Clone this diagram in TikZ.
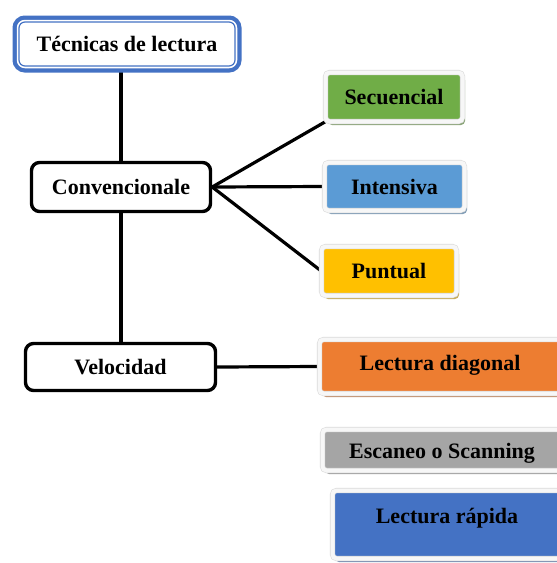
\documentclass[tikz,border=0pt]{standalone}
\usepackage{fontspec}
\setmainfont{Liberation Serif}
\usetikzlibrary{shadows,backgrounds}
\definecolor{techblue}{HTML}{4472C4}
\definecolor{cgreen}{HTML}{70AD47}
\definecolor{clblue}{HTML}{5B9BD5}
\definecolor{cyellow}{HTML}{FFC000}
\definecolor{corange}{HTML}{ED7D31}
\definecolor{cgray}{HTML}{A5A5A5}
\definecolor{cdblue}{HTML}{4472C4}
\begin{document}
\begin{tikzpicture}[x=1pt,y=-1pt,
  every node/.style={font=\fontsize{22}{26}\selectfont\bfseries, inner sep=0pt, text=black},
  plainbox/.style={draw=black, line width=3.4pt, rounded corners=8pt, fill=white},
  titlebox/.style={fill=white, draw=techblue, line width=1.2pt, rounded corners=6pt,
     preaction={draw=techblue, line width=13pt},
     preaction={draw=white, line width=4.5pt}},
  colbox/.style={rounded corners=4pt, fill=#1, draw=black!14, double=black!3,
     double distance=4pt, line width=0.6pt,
     drop shadow={shadow xshift=2.5pt, shadow yshift=-3.5pt, fill=#1!50!gray, opacity=0.85}},
  link/.style={line width=3.2pt, draw=black}]
\useasboundingbox (0,0) rectangle (557,563);
\clip (0,0) rectangle (557,563);

\node[titlebox, minimum width=216pt, minimum height=44pt] (tec) at (127,44) {Técnicas de lectura};
\node[plainbox, minimum width=179pt, minimum height=49pt] (conv) at (121,187) {Convencionale};
\node[plainbox, minimum width=190pt, minimum height=47pt] (vel) at (120.5,367) {Velocidad};

\node[colbox=cgreen, minimum width=137pt, minimum height=49pt] (sec) at (394,97) {Secuencial};
\node[colbox=clblue, minimum width=140pt, minimum height=48pt] (int) at (394.5,186.5) {Intensiva};
\node[colbox=cyellow, minimum width=135pt, minimum height=49pt] (pun) at (389,271) {Puntual};
\node[colbox=corange, minimum width=300pt, minimum height=54pt,
  label={[xshift=-29.5pt, yshift=1pt]center:Lectura diagonal}] (diag) at (469.5,366.5) {};
\node[colbox=cgray, minimum width=300pt, minimum height=41pt,
  label={[xshift=-30.5pt, yshift=-3pt]center:Escaneo o Scanning}] (esc) at (472.5,450) {};
\node[colbox=cdblue, minimum width=300pt, minimum height=68pt,
  label={[xshift=-35.5pt, yshift=6pt]center:Lectura rápida}] (rap) at (482.5,524.5) {};

\begin{scope}[on background layer]
\draw[link] (conv.north) -- (conv.north |- tec.south);
\draw[link] (conv.south) -- (conv.south |- vel.north);
\draw[link] (conv.east) -- (sec.south west);
\draw[link] (conv.east) -- (int.west);
\draw[link] (conv.east) -- (pun.west);
\draw[link] (vel.east) -- (diag.west);
\end{scope}
\end{tikzpicture}
\end{document}
